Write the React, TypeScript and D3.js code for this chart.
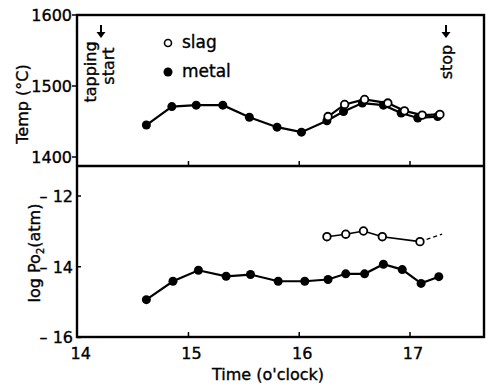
import React from "react";
import * as d3 from "d3";

// time in hours (o'clock)
const metalTempTime = [14.62, 14.85, 15.07, 15.31, 15.55, 15.8, 16.02, 16.25, 16.4, 16.57, 16.76, 16.92, 17.07, 17.25];
const metalTemp = [1445, 1471, 1473, 1473, 1456, 1442, 1435, 1451, 1464, 1476, 1473, 1462, 1455, 1457];
const slagTempTime = [16.26, 16.41, 16.59, 16.8, 16.95, 17.11, 17.27];
const slagTemp = [1457, 1474, 1481, 1476, 1465, 1459, 1460];

const metalPoTime = [14.62, 14.86, 15.09, 15.34, 15.56, 15.81, 16.05, 16.26, 16.42, 16.59, 16.76, 16.93, 17.1, 17.26];
const metalPo = [-14.93, -14.41, -14.1, -14.27, -14.22, -14.41, -14.41, -14.36, -14.2, -14.2, -13.93, -14.08, -14.47, -14.28];
const slagPoTime = [16.25, 16.42, 16.58, 16.75, 17.09];
const slagPo = [-13.15, -13.08, -12.99, -13.15, -13.29];
const slagPoDashEnd = [17.29, -13.08];

const xTicks = [14, 15, 16, 17];
const tempTicks = [1400, 1500, 1600];
const poTicks = [-12, -14, -16];

const W = 493;
const H = 387;
const left = 77;
const right = 484;
const top = 15;
const mid = 166;
const bottom = 337;

const font = "'DejaVu Sans', sans-serif";
const txt = { fontSize: 16, fill: "#000", stroke: "#000", strokeWidth: 0.35 };

const Arrow = ({ cx, y1, y2 }: { cx: number; y1: number; y2: number }) => (
  <g>
    <line x1={cx} x2={cx} y1={y1} y2={y2 - 4} stroke="#000" strokeWidth={2} />
    <path d={`M${cx - 4.5},${y2 - 6} L${cx + 4.5},${y2 - 6} L${cx},${y2} Z`} fill="#000" />
  </g>
);

export default function App() {
  const x = d3.scaleLinear().domain([14, 17]).range([77.7, 410]);
  const yT = d3.scaleLinear().domain([1400, 1600]).range([157, 15]);
  const yP = d3.scaleLinear().domain([-16, -12]).range([337.5, 196]);

  const lineT = d3.line<[number, number]>().x((d) => x(d[0])).y((d) => yT(d[1]));
  const lineP = d3.line<[number, number]>().x((d) => x(d[0])).y((d) => yP(d[1]));

  const mT = metalTempTime.map((t, i) => [t, metalTemp[i]] as [number, number]);
  const sT = slagTempTime.map((t, i) => [t, slagTemp[i]] as [number, number]);
  const mP = metalPoTime.map((t, i) => [t, metalPo[i]] as [number, number]);
  const sP = slagPoTime.map((t, i) => [t, slagPo[i]] as [number, number]);
  const lastS = sP[sP.length - 1];

  return (
    <svg width={W} height={H} style={{ position: "absolute", left: 0, top: 0, background: "#fff" }} fontFamily={font}>
      {/* frame */}
      <rect x={left} y={top} width={right - left} height={bottom - top} fill="none" stroke="#000" strokeWidth={2.4} />
      <line x1={left} x2={right} y1={mid} y2={mid} stroke="#000" strokeWidth={2.4} />

      {/* x ticks */}
      {xTicks.map((t) => (
        <g key={t}>
          {t > 14 && <line x1={x(t)} x2={x(t)} y1={bottom} y2={bottom - 5} stroke="#000" strokeWidth={1.5} />}
          {t > 14 && <line x1={x(t)} x2={x(t)} y1={mid} y2={mid - 5} stroke="#000" strokeWidth={1.5} />}
          <text x={x(t) + 3} y={359} textAnchor="middle" {...txt}>{t}</text>
        </g>
      ))}
      <text x={268} y={380} textAnchor="middle" {...txt}>Time (o'clock)</text>

      {/* y ticks top */}
      {tempTicks.map((v) => (
        <g key={v}>
          <line x1={left - 5} x2={left} y1={yT(v)} y2={yT(v)} stroke="#000" strokeWidth={1.5} />
          <text x={left - 5} y={yT(v)} dy="0.36em" textAnchor="end" {...txt}>{v}</text>
        </g>
      ))}
      <text transform="translate(28,104) rotate(-90)" textAnchor="middle" {...txt}>Temp (°C)</text>

      {/* y ticks bottom */}
      {poTicks.map((v) => (
        <g key={v}>
          <line x1={left} x2={left + 4} y1={yP(v)} y2={yP(v)} stroke="#000" strokeWidth={1.5} />
          <text x={left - 4} y={yP(v)} dy="0.36em" textAnchor="end" {...txt}>{"– " + Math.abs(v)}</text>
        </g>
      ))}
      <text transform="translate(40,253) rotate(-90)" textAnchor="middle" {...txt}>
        log Po<tspan fontSize={10} dy={4}>2</tspan><tspan dy={-4}>(atm)</tspan>
      </text>

      {/* annotations */}
      <text transform="translate(96,72) rotate(-90)" textAnchor="middle" {...txt}>tapping</text>
      <text transform="translate(114,66) rotate(-90)" textAnchor="middle" {...txt}>start</text>
      <Arrow cx={101} y1={25} y2={38} />
      <text transform="translate(452,62) rotate(-90)" textAnchor="middle" {...txt}>stop</text>
      <Arrow cx={446} y1={25} y2={38} />

      {/* legend */}
      <circle cx={168} cy={43} r={3.5} fill="#fff" stroke="#000" strokeWidth={1.6} />
      <text x={182} y={48} {...txt} fontSize={17}>slag</text>
      <circle cx={168} cy={72} r={4.5} fill="#000" />
      <text x={182} y={77} {...txt} fontSize={17}>metal</text>

      {/* temperature */}
      <path d={lineT(mT) ?? ""} fill="none" stroke="#000" strokeWidth={2.2} />
      <path d={lineT(sT) ?? ""} fill="none" stroke="#000" strokeWidth={2.2} />
      {mT.map((d, i) => (
        <circle key={"mt" + i} cx={x(d[0])} cy={yT(d[1])} r={4.5} fill="#000" />
      ))}
      {sT.map((d, i) => (
        <circle key={"st" + i} cx={x(d[0])} cy={yT(d[1])} r={3.8} fill="#fff" stroke="#000" strokeWidth={1.8} />
      ))}

      {/* log Po2 */}
      <path d={lineP(mP) ?? ""} fill="none" stroke="#000" strokeWidth={2.2} />
      <path d={lineP(sP) ?? ""} fill="none" stroke="#000" strokeWidth={1.6} />
      <line x1={x(lastS[0])} y1={yP(lastS[1])} x2={x(slagPoDashEnd[0])} y2={yP(slagPoDashEnd[1])}
        stroke="#000" strokeWidth={1.4} strokeDasharray="4,3" />
      {mP.map((d, i) => (
        <circle key={"mp" + i} cx={x(d[0])} cy={yP(d[1])} r={4.5} fill="#000" />
      ))}
      {sP.map((d, i) => (
        <circle key={"sp" + i} cx={x(d[0])} cy={yP(d[1])} r={3.8} fill="#fff" stroke="#000" strokeWidth={1.8} />
      ))}
    </svg>
  );
}
